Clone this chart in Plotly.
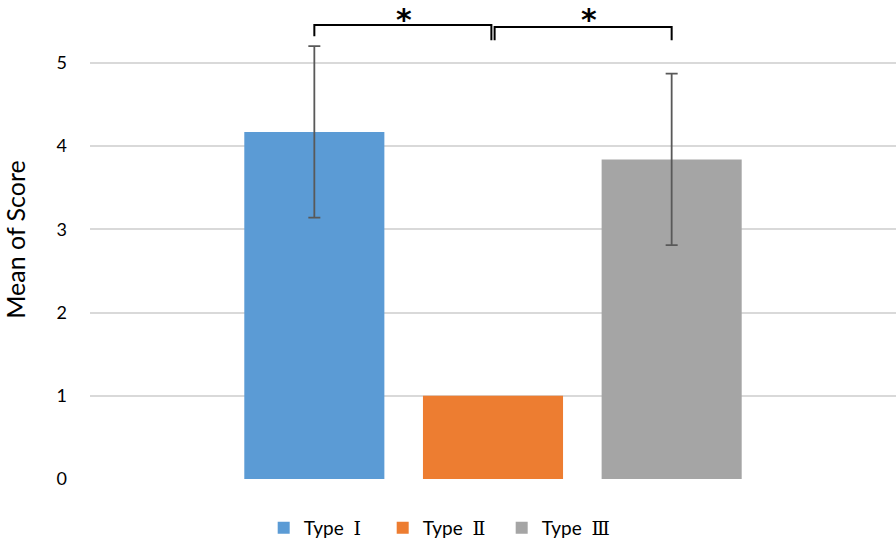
import plotly.graph_objects as go

series_names = ["Type ", "Type ", "Type "]
numerals = ["Ⅰ", "Ⅱ", "Ⅲ"]
means = [4.17, 1.0, 3.84]
errors = [1.03, None, 1.03]
colors = ["#5B9BD5", "#ED7D31", "#A5A5A5"]
y_ticks = [0, 1, 2, 3, 4, 5]

bargap = 0.335
bargroupgap = 0.216
slot = (1 - bargap) / len(series_names)
centers = [(i - (len(series_names) - 1) / 2) * slot for i in range(len(series_names))]

fig = go.Figure()
for name, num, m, e, c in zip(series_names, numerals, means, errors, colors):
    label = f"{name} <span style='font-family:DejaVu Serif'>{num}</span>"
    fig.add_trace(go.Bar(
        x=[0], y=[m], name=label, marker=dict(color=c, line=dict(width=0)),
        error_y=dict(type="data", array=[e], visible=e is not None,
                     color="#595959", thickness=1.8, width=6),
    ))

# significance brackets (data coords derived from bar centres)
top_l, top_r = 5.455, 5.43
end_outer_l = 5.32
end_outer_r = 5.27
end_mid = 5.27
line = dict(color="black", width=2)
xl, xm, xr = centers[0], centers[1], centers[2]
mid_l = xm - 0.002
mid_r = xm + 0.002
path_l = f"M {xl} {end_outer_l} L {xl} {top_l} L {mid_l} {top_l} L {mid_l} {end_mid}"
path_r = f"M {mid_r} {end_mid} L {mid_r} {top_r} L {xr} {top_r} L {xr} {end_outer_r}"
fig.add_shape(type="path", path=path_l, line=line, xref="x", yref="y")
fig.add_shape(type="path", path=path_r, line=line, xref="x", yref="y")
for a, b, dx in [(xl, xm, 0.0), (xm, xr, 0.008)]:
    fig.add_annotation(x=(a + b) / 2 + dx, y=5.755, text="<b>*</b>", showarrow=False,
                       yanchor="top", yshift=0,
                       font=dict(size=30, color="black", family="DejaVu Sans"))

fig.update_layout(
    width=896, height=547,
    margin=dict(l=90, r=0, t=0, b=67),
    paper_bgcolor="white", plot_bgcolor="white",
    barmode="group", bargap=bargap, bargroupgap=bargroupgap,
    font=dict(family="Lato, Open Sans, sans-serif", size=16, color="#000000"),
    showlegend=True,
    legend=dict(orientation="h", x=0.2155, xanchor="left", y=-0.063, yanchor="top",
                font=dict(size=19, family="Lato, sans-serif"),
                itemwidth=30, traceorder="normal",
                entrywidth=74, entrywidthmode="pixels"),
    xaxis=dict(range=[-0.5, 0.5], showticklabels=False, showgrid=False, zeroline=False,
               showline=False, fixedrange=True),
    yaxis=dict(range=[0, 5.755], tickvals=y_ticks, showgrid=True, gridcolor="#D9D9D9",
               gridwidth=1.5, zeroline=False, showline=False, ticks="",
               ticklabelstandoff=22, tickfont=dict(size=18),
               title=dict(text="Mean of Score", font=dict(size=25), standoff=28)),
)

fig.write_html("out.html", config={"displayModeBar": False},
               post_script="document.body.style.margin='0';")
